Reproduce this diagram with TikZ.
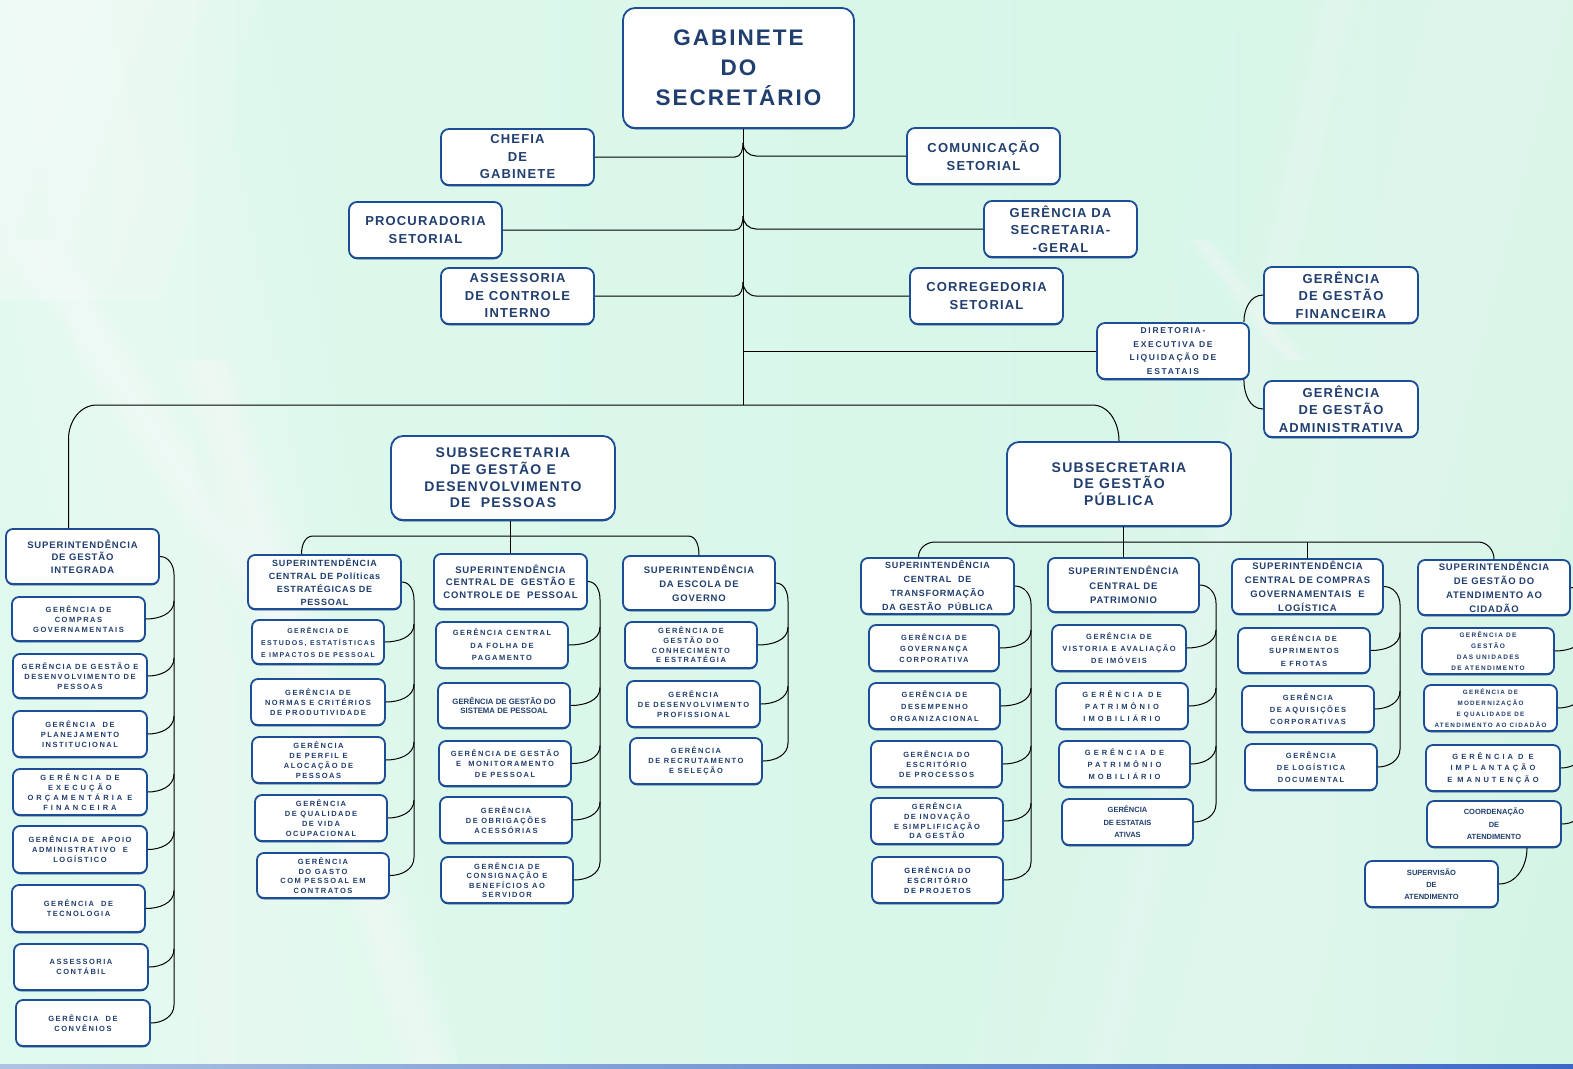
\documentclass[tikz,border=0pt]{standalone}
\usepackage{fontspec}
\setmainfont{Liberation Sans}
\newfontfamily\fA[LetterSpace=9]{Liberation Sans}
\newfontfamily\fB[LetterSpace=20]{Liberation Sans}
\newfontfamily\fC{Liberation Sans}
\newfontfamily\fD[LetterSpace=40]{Liberation Sans}
\usetikzlibrary{calc}
\definecolor{txt}{RGB}{32,62,110}
\definecolor{brd}{RGB}{28,78,152}
\definecolor{shd}{RGB}{14,50,110}
\definecolor{mintA}{RGB}{222,249,237}
\definecolor{mintB}{RGB}{198,240,220}
\definecolor{mintC}{RGB}{212,245,230}
\definecolor{stripL}{RGB}{175,195,225}
\definecolor{stripR}{RGB}{60,105,200}
\newcommand\Fs[3]{#1\bfseries\fontsize{#2}{#3}\selectfont}
\newcommand\bx[7][]{\node[box,#1,minimum width={(#5-#3)*1pt},minimum height={(#6-#4)*1pt}] (#2) at ({(#3+#5)/2},{-(#4+#6)/2}) {#7};}
\newcommand\streak[6]{\foreach \k in {1,2,3,4}{\fill[white,opacity=#6] ({#1-#5*\k/4},{-#2}) -- ({#1+#5*\k/4},{-#2}) -- ({#3+#5*\k/4},{-#4}) -- ({#3-#5*\k/4},{-#4}) -- cycle;}}
\begin{document}
\begin{tikzpicture}[x=1pt,y=1pt,
  box/.style={draw=brd,line width=1.8pt,fill=white,rounded corners=7pt,text=txt,align=center,inner sep=0pt,
    preaction={fill=shd,transform canvas={yshift=-1.3pt}}},
  gabst/.style={rounded corners=12pt,font=\Fs\fA{22.5}{30}},
  topst/.style={rounded corners=8pt,font=\Fs\fA{13}{17.5}},
  subst/.style={rounded corners=12pt,font=\Fs\fA{14}{16.7}},
  dirst/.style={rounded corners=8pt,font=\Fs\fB{8.5}{13.5}},
  supst/.style={font=\Fs\fA{9.5}{12.5}},
  gerst/.style={font=\Fs\fB{7.5}{10}},
  gtight/.style={font=\Fs\fC{7.5}{12}},
  gwide/.style={font=\Fs\fD{7.5}{10}},
  gsmall/.style={font=\Fs\fB{6.5}{11}},
  conn/.style={draw=black,line width=1pt}]
\useasboundingbox (0,0) rectangle (1573,-1068);
\clip (0,0) rectangle (1573,-1068);
% background
\shade[left color=mintA,middle color=mintB,right color=mintC] (0,0) rectangle (1573,-1068);
\streak{60}{0}{260}{1068}{200}{.09}
\streak{40}{0}{-60}{300}{220}{.12}
\streak{30}{240}{290}{640}{30}{.1}
\streak{205}{360}{430}{1068}{30}{.12}
\streak{1500}{0}{1230}{1068}{260}{.07}
\streak{1200}{240}{1295}{360}{14}{.1}
\streak{1340}{0}{1100}{1068}{18}{.06}
\shade[left color=stripL,right color=stripR] (0,-1064) rectangle (1573,-1068);

% top level
\bx[gabst]{gab}{623}{8}{854}{128}{GABINETE\\DO\\SECRETÁRIO}
\bx[topst]{chefia}{441}{129}{594}{185}{CHEFIA\\DE\\GABINETE}
\bx[topst]{com}{907}{128}{1060}{184}{COMUNICAÇÃO\\SETORIAL}
\bx[topst]{proc}{349}{202}{502}{258}{PROCURADORIA\\SETORIAL}
\bx[topst]{gsg}{984}{201}{1137}{257}{GERÊNCIA DA\\SECRETARIA-\\-GERAL}
\bx[topst]{aci}{441}{268}{594}{324}{ASSESSORIA\\DE CONTROLE\\INTERNO}
\bx[topst]{cor}{910}{268}{1063}{324}{CORREGEDORIA\\SETORIAL}
\bx[dirst]{dir}{1097}{323}{1249}{379}{DIRETORIA-\\EXECUTIVA DE\\LIQUIDAÇÃO DE\\ESTATAIS}
\bx[topst]{ggf}{1264}{267}{1418}{323}{GERÊNCIA\\DE GESTÃO\\FINANCEIRA}
\bx[topst]{gga}{1264}{381}{1418}{437}{GERÊNCIA\\DE GESTÃO\\ADMINISTRATIVA}
\bx[subst]{sub1}{391}{436}{615}{520}{SUBSECRETARIA\\DE GESTÃO E\\DESENVOLVIMENTO\\DE\ \ PESSOAS}
\bx[subst]{sub2}{1007}{442}{1231}{526}{SUBSECRETARIA\\DE GESTÃO\\PÚBLICA}

% left column
\bx[supst]{sgi}{6}{529}{159}{584}{SUPERINTENDÊNCIA\\DE GESTÃO\\INTEGRADA}
\bx[gerst]{l1}{12}{597}{145}{641}{GERÊNCIA DE\\COMPRAS\\GOVERNAMENTAIS}
\bx[gerst]{l2}{13}{654}{147}{698}{GERÊNCIA DE GESTÃO E\\DESENVOLVIMENTO DE\\PESSOAS}
\bx[gerst]{l3}{13}{711}{147}{757}{GERÊNCIA\ \ DE\\PLANEJAMENTO\\INSTITUCIONAL}
\bx[gwide,font=\Fs\fD{7.5}{9.8}]{l4}{13}{769}{147}{815}{GERÊNCIA DE\\EXECUÇÃO\\ORÇAMENTÁRIA E\\FINANCEIRA}
\bx[gerst]{l5}{13}{826}{147}{873}{GERÊNCIA DE\ \ APOIO\\ADMINISTRATIVO\ \ E\\LOGÍSTICO}
\bx[gerst]{l6}{12}{885}{145}{932}{GERÊNCIA\ \ DE\\TECNOLOGIA}
\bx[gerst]{l7}{14}{944}{148}{990}{ASSESSORIA\\CONTÁBIL}
\bx[gerst]{l8}{16}{1000}{150}{1046}{GERÊNCIA\ \ DE\\CONVÊNIOS}

% SGDP column 1
\bx[supst,font=\Fs\fA{9}{13}]{sc1}{248}{555}{401}{609}{SUPERINTENDÊNCIA\\CENTRAL DE Políticas\\ESTRATÉGICAS DE\\PESSOAL}
\bx[gerst,font=\Fs\fB{7}{12}]{a1}{252}{620}{384}{664}{GERÊNCIA DE\\ESTUDOS, ESTATÍSTICAS\\E IMPACTOS DE PESSOAL}
\bx[gerst]{a2}{251}{679}{385}{725}{GERÊNCIA DE\\NORMAS E CRITÉRIOS\\DE PRODUTIVIDADE}
\bx[gerst]{a3}{252}{737}{385}{783}{GERÊNCIA\\DE PERFIL E\\ALOCAÇÃO DE\\PESSOAS}
\bx[gerst]{a4}{255}{795}{387}{841}{GERÊNCIA\\DE QUALIDADE\\DE VIDA\\OCUPACIONAL}
\bx[gerst,font=\Fs\fB{7.5}{9.5}]{a5}{257}{853}{389}{898}{GERÊNCIA\\DO GASTO\\COM PESSOAL EM\\CONTRATOS}

% SGDP column 2
\bx[supst]{sc2}{434}{554}{587}{609}{SUPERINTENDÊNCIA\\CENTRAL DE\ \ GESTÃO E\\CONTROLE DE\ \ PESSOAL}
\bx[gerst,font=\Fs\fB{7.5}{12.5}]{b1}{436}{622}{568}{668}{GERÊNCIA CENTRAL\\DA FOLHA DE\\PAGAMENTO}
\bx[gtight,font=\Fs\fC{7.8}{9.5}]{b2}{438}{683}{570}{728}{GERÊNCIA DE GESTÃO DO\\SISTEMA DE PESSOAL}
\bx[gerst,font=\Fs\fB{7.5}{10.5}]{b3}{439}{741}{571}{786}{GERÊNCIA DE GESTÃO\\E\ \ MONITORAMENTO\\DE PESSOAL}
\bx[gerst]{b4}{440}{797}{572}{843}{GERÊNCIA\\DE OBRIGAÇÕES\\ACESSÓRIAS}
\bx[gerst,font=\Fs\fB{7.5}{9.5}]{b5}{441}{857}{573}{903}{GERÊNCIA DE\\CONSIGNAÇÃO E\\BENEFÍCIOS AO\\SERVIDOR}

% SGDP column 3
\bx[supst,font=\Fs\fA{9.5}{14}]{sc3}{623}{556}{775}{610}{SUPERINTENDÊNCIA\\DA ESCOLA DE\\GOVERNO}
\bx[gerst,font=\Fs\fB{7.5}{9.7}]{c1}{625}{622}{757}{668}{GERÊNCIA DE\\GESTÃO DO\\CONHECIMENTO\\E ESTRATÉGIA}
\bx[gerst]{c2}{627}{681}{760}{727}{GERÊNCIA\\DE DESENVOLVIMENTO\\PROFISSIONAL}
\bx[gerst]{c3}{630}{738}{762}{784}{GERÊNCIA\\DE RECRUTAMENTO\\E SELEÇÃO}

% SGP column 1
\bx[supst,font=\Fs\fA{9}{14}]{st1}{861}{558}{1014}{614}{SUPERINTENDÊNCIA\\CENTRAL\ \ DE\\TRANSFORMAÇÃO\\DA GESTÃO\ \ PÚBLICA}
\bx[gerst,font=\Fs\fB{7.5}{11}]{d1}{869}{625}{999}{671}{GERÊNCIA DE\\GOVERNANÇA\\CORPORATIVA}
\bx[gerst,font=\Fs\fB{7.5}{12}]{d2}{869}{683}{1000}{729}{GERÊNCIA DE\\DESEMPENHO\\ORGANIZACIONAL}
\bx[gerst]{d3}{871}{741}{1002}{787}{GERÊNCIA DO\\ESCRITÓRIO\\DE PROCESSOS}
\bx[gerst,font=\Fs\fB{7.5}{9.7}]{d4}{871}{798}{1003}{844}{GERÊNCIA\\DE INOVAÇÃO\\E SIMPLIFICAÇÃO\\DA GESTÃO}
\bx[gerst,text=shd]{d5}{872}{857}{1003}{903}{GERÊNCIA DO\\ESCRITÓRIO\\DE PROJETOS}

% SGP column 2
\bx[supst,font=\Fs\fA{9.5}{14.5}]{st2}{1048}{558}{1199}{612}{SUPERINTENDÊNCIA\\CENTRAL DE\\PATRIMONIO}
\bx[gerst,font=\Fs\fB{7.5}{12}]{e1}{1052}{625}{1186}{671}{GERÊNCIA DE\\VISTORIA E AVALIAÇÃO\\DE IMÓVEIS}
\bx[gwide,font=\Fs\fD{7.5}{12}]{e2}{1056}{683}{1188}{729}{GERÊNCIA DE\\PATRIMÔNIO\\IMOBILIÁRIO}
\bx[gwide,font=\Fs\fD{7.5}{12}]{e3}{1059}{741}{1190}{787}{GERÊNCIA DE\\PATRIMÔNIO\\MOBILIÁRIO}
\bx[gtight,font=\Fs\fC{7.5}{12.5}]{e4}{1062}{799}{1193}{845}{GERÊNCIA\\DE ESTATAIS\\ATIVAS}

% SGP column 3
\bx[supst,font=\Fs\fA{9.5}{14}]{st3}{1232}{559}{1383}{614}{SUPERINTENDÊNCIA\\CENTRAL DE COMPRAS\\GOVERNAMENTAIS\ \ E\\LOGÍSTICA}
\bx[gerst,font=\Fs\fB{7.5}{12.5}]{f1}{1238}{628}{1370}{673}{GERÊNCIA DE\\SUPRIMENTOS\\E FROTAS}
\bx[gerst,font=\Fs\fB{7.5}{12}]{f2}{1242}{686}{1374}{732}{GERÊNCIA\\DE AQUISIÇÕES\\CORPORATIVAS}
\bx[gerst,font=\Fs\fB{7.5}{12}]{f3}{1245}{744}{1377}{790}{GERÊNCIA\\DE LOGÍSTICA\\DOCUMENTAL}

% SGP column 4
\bx[supst,font=\Fs\fA{9.5}{14}]{st4}{1418}{560}{1570}{615}{SUPERINTENDÊNCIA\\DE GESTÃO DO\\ATENDIMENTO AO\\CIDADÃO}
\bx[gsmall]{h1}{1422}{628}{1554}{674}{GERÊNCIA DE\\GESTÃO\\DAS UNIDADES\\DE ATENDIMENTO}
\bx[gsmall,font=\Fs\fB{6.3}{11}]{h2}{1424}{685}{1557}{731}{GERÊNCIA DE\\MODERNIZAÇÃO\\E QUALIDADE DE\\ATENDIMENTO AO CIDADÃO}
\bx[gwide,font=\Fs\fD{7.5}{11.5}]{h3}{1426}{745}{1560}{791}{GERÊNCIA D E\\IMPLANTAÇÃO\\E MANUTENÇÃO}
\bx[gtight,font=\Fs\fC{7.5}{12.5}]{h4}{1427}{801}{1561}{847}{COORDENAÇÃO\\DE\\ATENDIMENTO}
\bx[gtight,font=\Fs\fC{7.5}{12}]{h5}{1365}{861}{1498}{907}{SUPERVISÃO\\DE\\ATENDIMENTO}

% ---- connectors: top
\coordinate (tk) at (743,0);
\coordinate (tl) at (735,0);
\coordinate (tr) at (756,0);
\coordinate (busL) at (97,-405);
\coordinate (busR) at (1092,-405);
\draw[conn] (gab.south -| tk) -- (tk |- busL);
\draw[conn] (chefia.east) -- (chefia.east -| tl) to[out=0,in=-90] ($(chefia.east -| tk)+(0,14)$);
\draw[conn] (com.west) -- (com.west -| tr) to[out=180,in=-90] ($(chefia.east -| tk)+(0,14)$);
\draw[conn] (proc.east) -- (proc.east -| tl) to[out=0,in=-90] ($(proc.east -| tk)+(0,14)$);
\draw[conn] (gsg.west) -- (gsg.west -| tr) to[out=180,in=-90] ($(proc.east -| tk)+(0,14)$);
\draw[conn] (aci.east) -- (aci.east -| tl) to[out=0,in=-90] ($(aci.east -| tk)+(0,14)$);
\draw[conn] (cor.west) -- (cor.west -| tr) to[out=180,in=-90] ($(aci.east -| tk)+(0,14)$);
\draw[conn] (dir.west) -- (dir.west -| tk);
\draw[conn] ($(dir.north east)+(-6,0)$) to[out=90,in=180] (ggf.west);
\draw[conn] ($(dir.south east)+(-6,0)$) to[out=-90,in=180] (gga.west);
% main bus
\draw[conn] ($(sgi.north)+(-14,0)$) -- ++(0,89) to[out=90,in=180] (busL) -- (busR) to[out=0,in=90] (sub2.north);
\draw[conn] ($(sub1.north)+(-9,0)$) -- ($(sub1.north)+(-9,0)$ |- busL);
% sub1 bus
\coordinate (b1L) at (313,-536);
\coordinate (b1R) at (688,-536);
\draw[conn] ($(sc1.north)+(-23,0)$) to[out=90,in=180] (b1L) -- (b1R) to[out=0,in=90] (sc3.north);
\draw[conn] (sc2.north) -- (sc2.north |- sub1.south);
% sub2 bus
\coordinate (b2L) at (935,-542);
\coordinate (b2R) at (1478,-542);
\draw[conn] ($(st1.north)+(-19,0)$) to[out=90,in=180] (b2L) -- (b2R) to[out=0,in=90] (st4.north);
\draw[conn] (st2.north) -- (st2.north |- sub2.south);
\draw[conn] (st3.north) -- (st3.north |- b2L);
% columns
\coordinate (s1) at (174,0);
\draw[conn] (sgi.east) to[out=0,in=90] ($(sgi.east -| s1)+(0,-18)$) -- ($(l8.east -| s1)+(0,18)$);
\foreach \c in {l1,l2,l3,l4,l5,l6,l7,l8}
  \draw[conn] (\c.east) to[out=0,in=-90] ($(\c.east -| s1)+(0,18)$);
\coordinate (s2) at (414,0);
\draw[conn] (sc1.east) to[out=0,in=90] ($(sc1.east -| s2)+(0,-18)$) -- ($(a5.east -| s2)+(0,18)$);
\foreach \c in {a1,a2,a3,a4,a5}
  \draw[conn] (\c.east) to[out=0,in=-90] ($(\c.east -| s2)+(0,18)$);
\coordinate (s3) at (600,0);
\draw[conn] (sc2.east) to[out=0,in=90] ($(sc2.east -| s3)+(0,-18)$) -- ($(b5.east -| s3)+(0,18)$);
\foreach \c in {b1,b2,b3,b4,b5}
  \draw[conn] (\c.east) to[out=0,in=-90] ($(\c.east -| s3)+(0,18)$);
\coordinate (s4) at (788,0);
\draw[conn] (sc3.east) to[out=0,in=90] ($(sc3.east -| s4)+(0,-18)$) -- ($(c3.east -| s4)+(0,18)$);
\foreach \c in {c1,c2,c3}
  \draw[conn] (\c.east) to[out=0,in=-90] ($(\c.east -| s4)+(0,18)$);
\coordinate (s5) at (1031,0);
\draw[conn] (st1.east) to[out=0,in=90] ($(st1.east -| s5)+(0,-18)$) -- ($(d5.east -| s5)+(0,18)$);
\foreach \c in {d1,d2,d3,d4,d5}
  \draw[conn] (\c.east) to[out=0,in=-90] ($(\c.east -| s5)+(0,18)$);
\coordinate (s6) at (1216,0);
\draw[conn] (st2.east) to[out=0,in=90] ($(st2.east -| s6)+(0,-18)$) -- ($(e4.east -| s6)+(0,18)$);
\foreach \c in {e1,e2,e3,e4}
  \draw[conn] (\c.east) to[out=0,in=-90] ($(\c.east -| s6)+(0,18)$);
\coordinate (s7) at (1400,0);
\draw[conn] (st3.east) to[out=0,in=90] ($(st3.east -| s7)+(0,-18)$) -- ($(f3.east -| s7)+(0,18)$);
\foreach \c in {f1,f2,f3}
  \draw[conn] (\c.east) to[out=0,in=-90] ($(\c.east -| s7)+(0,18)$);
\coordinate (s8) at (1584,0);
\draw[conn] (st4.east) to[out=0,in=90] ($(st4.east -| s8)+(0,-18)$) -- ($(h4.east -| s8)+(0,18)$);
\foreach \c in {h1,h2,h3,h4}
  \draw[conn] (\c.east) to[out=0,in=-90] ($(\c.east -| s8)+(0,18)$);
\draw[conn] ($(h4.south)+(33,0)$) to[out=-90,in=0] (h5.east);
\end{tikzpicture}
\end{document}
